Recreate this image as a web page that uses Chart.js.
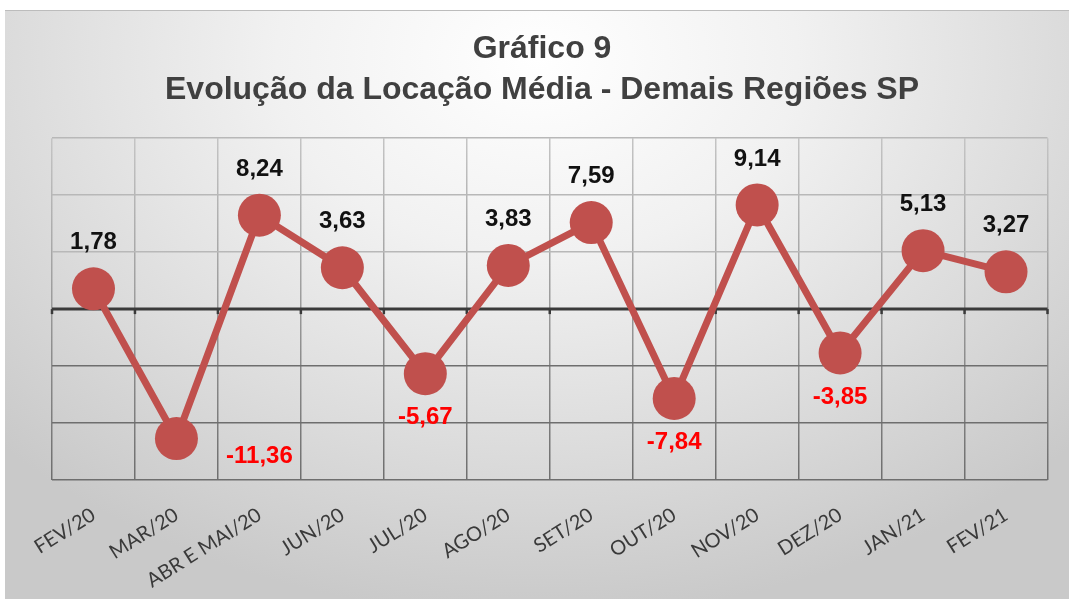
<!DOCTYPE html>
<html>
<head>
<meta charset="utf-8">
<script src="https://cdn.jsdelivr.net/npm/chart.js@4.4.1/dist/chart.umd.min.js"></script>
<style>
  html, body { margin: 0; padding: 0; background: #ffffff; width: 1069px; height: 599px; overflow: hidden; }
  #box {
    position: absolute; left: 5px; top: 10px; width: 1064px; height: 589px;
    background: radial-gradient(ellipse 70% 95% at 50% 8%, #ffffff 0%, #f1f1f1 35%, #dcdcdc 70%, #c9c9c9 100%);
    border-top: 1px solid #bcbcbc;
    box-sizing: border-box;
  }
  #c { position: absolute; left: 0; top: 0; }
</style>
</head>
<body>
<div id="box"><canvas id="c" width="1064" height="588"></canvas></div>
<script>
const categories = ['FEV/20','MAR/20','ABR E MAI/20','JUN/20','JUL/20','AGO/20','SET/20','OUT/20','NOV/20','DEZ/20','JAN/21','FEV/21'];
const values = [1.78, -11.36, 8.24, 3.63, -5.67, 3.83, 7.59, -7.84, 9.14, -3.85, 5.13, 3.27];
const titleLines = ['Gráfico 9', 'Evolução da Locação Média - Demais Regiões SP'];
const yMin = -15, yMax = 15, yStep = 5;

const fmt = v => v.toFixed(2).replace('.', ',');

function vGradient(chart, top, bottom) {
  const a = chart.chartArea;
  if (!a) return top;
  const g = chart.ctx.createLinearGradient(0, a.top, 0, a.bottom);
  g.addColorStop(0, top);
  g.addColorStop(1, bottom);
  return g;
}

const zeroTicks = {
  id: 'zeroTicks',
  beforeDatasetsDraw(chart) {
    const {ctx, scales: {y}} = chart;
    const y0 = y.getPixelForValue(0);
    ctx.save();
    ctx.strokeStyle = '#3a3a3a';
    ctx.lineWidth = 3;
    ctx.beginPath();
    ctx.moveTo(chart.chartArea.left, y0);
    ctx.lineTo(chart.chartArea.right, y0);
    ctx.stroke();
    const n = categories.length;
    const w = (chart.chartArea.right - chart.chartArea.left) / n;
    ctx.lineWidth = 2.5;
    for (let i = 0; i <= n; i++) {
      const xx = chart.chartArea.left + i * w;
      ctx.beginPath();
      ctx.moveTo(xx, y0);
      ctx.lineTo(xx, y0 + 5);
      ctx.stroke();
    }
    ctx.restore();
  }
};

const valueLabels = {
  id: 'valueLabels',
  afterDatasetsDraw(chart) {
    const {ctx, chartArea} = chart;
    const meta = chart.getDatasetMeta(0);
    const n = categories.length;
    const w = (chartArea.right - chartArea.left) / n;
    ctx.save();
    ctx.font = 'bold 24px "Liberation Sans", Arial, sans-serif';
    ctx.textAlign = 'center';
    ctx.textBaseline = 'middle';
    meta.data.forEach((pt, i) => {
      const v = values[i];
      let lx = pt.x, ly;
      if (v >= 0) {
        ctx.fillStyle = '#111111';
        ly = pt.y - 46;
      } else {
        ctx.fillStyle = '#ff0000';
        ly = pt.y + 44;
        if (ly + 12 > chartArea.bottom) { lx = pt.x + w; ly = pt.y + 18; }
      }
      ctx.fillText(fmt(v), lx, ly);
    });
    ctx.restore();
  }
};

new Chart(document.getElementById('c'), {
  type: 'line',
  data: {
    labels: categories,
    datasets: [{
      data: values,
      borderColor: '#c0504d',
      backgroundColor: '#c0504d',
      borderWidth: 7,
      pointRadius: 21.5,
      pointHoverRadius: 21.5,
      pointBackgroundColor: '#c0504d',
      pointBorderWidth: 0,
      tension: 0,
      clip: false
    }]
  },
  options: {
    responsive: false,
    animation: false,
    events: [],
    layout: { padding: { left: 26, right: 16, top: 0, bottom: 0 } },
    plugins: {
      legend: { display: false },
      tooltip: { enabled: false },
      title: {
        display: true,
        text: titleLines,
        color: '#404040',
        font: { family: '"Liberation Sans", Arial, sans-serif', size: 32, weight: 'bold', lineHeight: 1.3 },
        padding: { top: 17, bottom: 27 }
      }
    },
    scales: {
      x: {
        offset: true,
        grid: {
          offset: true,
          drawTicks: false,
          lineWidth: 1.5,
          color: ctx => vGradient(ctx.chart, '#c4c4c4', '#6e6e6e')
        },
        border: { display: false },
        ticks: {
          minRotation: 32,
          maxRotation: 32,
          autoSkip: false,
          padding: 23,
          color: '#3a3a3a',
          font: { family: 'Lato, "Open Sans", sans-serif', size: 20 }
        },
        afterFit(scale) { scale.height = 119; }
      },
      y: {
        min: yMin,
        max: yMax,
        grid: {
          drawTicks: false,
          lineWidth: 1.5,
          color: ctx => {
            const v = ctx.tick ? ctx.tick.value : 0;
            if (v > 0) return '#b8b8b8';
            if (v === 0) return 'rgba(0,0,0,0)';
            return '#6e6e6e';
          }
        },
        border: { display: false },
        ticks: { display: false, stepSize: yStep },
        afterFit(scale) { scale.width = 21; }
      }
    }
  },
  plugins: [zeroTicks, valueLabels]
});
</script>
</body>
</html>
